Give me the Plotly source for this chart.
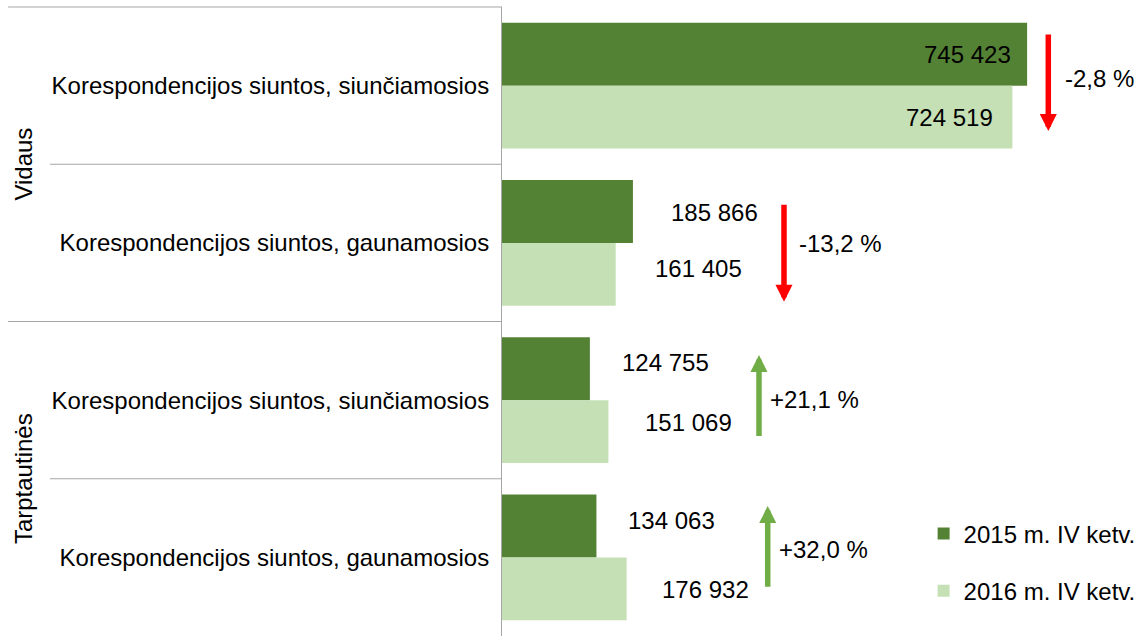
import plotly.graph_objects as go

# ---------------- data ----------------
groups = ["Vidaus", "Tarptautinės"]
categories = [
    "Korespondencijos siuntos, siunčiamosios",
    "Korespondencijos siuntos, gaunamosios",
    "Korespondencijos siuntos, siunčiamosios",
    "Korespondencijos siuntos, gaunamosios",
]
series_names = ["2015 m. IV ketv.", "2016 m. IV ketv."]
values_2015 = [745423, 185866, 124755, 134063]
values_2016 = [724519, 161405, 151069, 176932]

# ---------------- styling / layout helpers ----------------
FONT = "Liberation Sans, Arial, sans-serif"
FS = 24
DARK = "#548235"
LIGHT = "#C5E0B4"
RED = "#FF0000"
GREEN = "#70AD47"
LINE = "#A6A6A6"

ypos = list(range(len(categories)))


def fmt(v):
    return f"{v:,}".replace(",", " ")


def pct(a, b):
    return f"{(b / a - 1) * 100:+.1f}".replace(".", ",") + " %"


fig = go.Figure()
fig.add_trace(go.Bar(y=ypos, x=values_2015, name=series_names[0], orientation="h",
                     marker=dict(color=DARK, line=dict(width=0)), legendgroup="a"))
fig.add_trace(go.Bar(y=ypos, x=values_2016, name=series_names[1], orientation="h",
                     marker=dict(color=LIGHT, line=dict(width=0)), legendgroup="b"))

annotations = []
# value labels
anch_2015 = ["right", "left", "left", "left"]
xs_2015 = [-14, 36, 30, 30]
ys_2015 = [0, -1, 6, 5]
anch_2016 = ["right", "left", "left", "left"]
xs_2016 = [-17, 37, 35, 33]
ys_2016 = [0, 6, 9, -1]
for i in ypos:
    annotations.append(dict(x=values_2015[i], y=i - 0.2, xref="x", yref="y", text=fmt(values_2015[i]),
                            showarrow=False, xanchor=anch_2015[i], xshift=xs_2015[i], yshift=ys_2015[i],
                            font=dict(size=FS, color="#000000", family=FONT)))
    annotations.append(dict(x=values_2016[i], y=i + 0.2, xref="x", yref="y", text=fmt(values_2016[i]),
                            showarrow=False, xanchor=anch_2016[i], xshift=xs_2016[i], yshift=ys_2016[i],
                            font=dict(size=FS, color="#000000", family=FONT)))

# change arrows and percentage labels (decoration positions)
arrow_x = [775500, 400300, 364800, 377200]
arrow_tail = [-0.334, 0.748, 2.237, 3.197]
arrow_tip = [0.289, 1.374, 1.713, 2.673]
pct_x = [796000, 419000, 378000, 391000]
pct_y = [-0.048, 1.007, 1.993, 2.953]
for i in ypos:
    up = values_2016[i] > values_2015[i]
    col = GREEN if up else RED
    annotations.append(dict(x=arrow_x[i], y=arrow_tip[i], ax=arrow_x[i], ay=arrow_tail[i],
                            xref="x", yref="y", axref="x", ayref="y", text="", showarrow=True,
                            arrowhead=2, arrowsize=0.62, arrowwidth=5.5, arrowcolor=col, standoff=0))
    annotations.append(dict(x=pct_x[i], y=pct_y[i], xref="x", yref="y", text=pct(values_2015[i], values_2016[i]),
                            showarrow=False, xanchor="left",
                            font=dict(size=FS, color="#000000", family=FONT)))

# group labels
for g, gy in zip(groups, [0.75, 0.25]):
    annotations.append(dict(x=-0.755, y=gy, xref="paper", yref="paper", text=g, textangle=-90,
                            showarrow=False, xanchor="center", yanchor="middle",
                            font=dict(size=FS, color="#000000", family=FONT)))

# separator lines of the category axis
shapes = []
line_left = [-0.779, -0.713, -0.779, -0.713]
for k in range(4):
    yp = 1 - k / 4
    shapes.append(dict(type="line", xref="paper", yref="paper", x0=line_left[k], x1=0, y0=yp, y1=yp,
                       line=dict(color=LINE, width=1)))

fig.update_layout(
    width=1144, height=636,
    margin=dict(l=502, r=8, t=7, b=0, autoexpand=False),
    paper_bgcolor="white", plot_bgcolor="white",
    barmode="group", bargap=0.2, bargroupgap=0,
    font=dict(family=FONT, size=FS, color="#000000"),
    xaxis=dict(range=[0, 900000], visible=False, showgrid=False, zeroline=False),
    yaxis=dict(range=[3.5, -0.5], tickvals=ypos, ticktext=categories, showgrid=False, zeroline=False,
               showline=True, linecolor=LINE, linewidth=1, ticks="", ticklabelstandoff=7,
               tickfont=dict(size=FS, color="#000000", family=FONT)),
    legend=dict(x=0.665, y=0.198, xanchor="left", yanchor="top", traceorder="grouped",
                tracegroupgap=23, font=dict(size=FS, color="#000000", family=FONT),
                bgcolor="rgba(0,0,0,0)"),
    annotations=annotations,
    shapes=shapes,
)

fig.write_html("out.html", config={"displayModeBar": False},
               post_script="document.body.style.margin='0';document.body.style.overflow='hidden';")
